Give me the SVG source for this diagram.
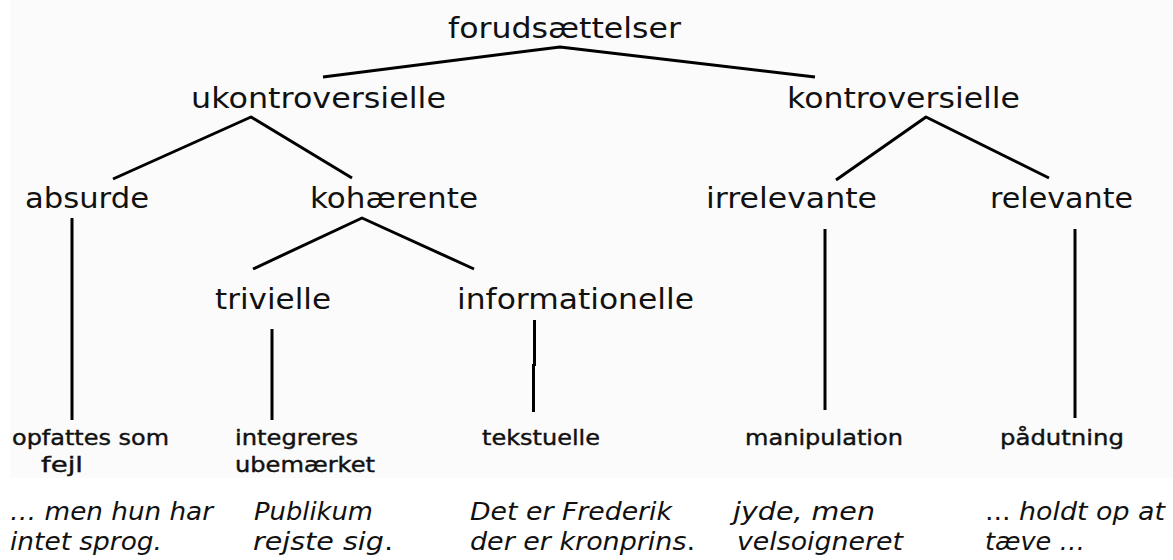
<svg xmlns="http://www.w3.org/2000/svg" width="1173" height="560" viewBox="0 0 1173 560">
<style>
.lvl{font-family:"DejaVu Sans","Liberation Sans",sans-serif;font-size:28px;fill:#111}
.leaf{font-family:"DejaVu Sans","Liberation Sans",sans-serif;font-size:21px;fill:#111;stroke:#111;stroke-width:0.4}
.ex{font-family:"DejaVu Sans","Liberation Sans",sans-serif;font-size:24px;font-style:italic;fill:#111}
.up{font-style:normal}
.ln{stroke:#000;stroke-width:3;fill:none;stroke-linejoin:round}
</style>
<rect x="0" y="0" width="1173" height="560" fill="#ffffff"/>
<rect x="10" y="0" width="1163" height="478" fill="#fbfbfb"/>
<g id="connectors" class="ln">
<polyline points="323,77 560,47 815,77"/>
<polyline points="113,179 251,117 352,178"/>
<polyline points="836,180 926,117 1049,178"/>
<polyline points="253,269 362,218 474,269"/>
<line x1="72" y1="218" x2="72" y2="420"/>
<line x1="272" y1="329" x2="272" y2="420"/>
<path d="M534.5 320 V366 M533.5 364 V412"/>
<line x1="825" y1="229" x2="825" y2="410"/>
<line x1="1075" y1="229" x2="1075" y2="418"/>
</g>
<g id="n-forudsaettelser"><text class="lvl" x="448" y="38" textLength="233" lengthAdjust="spacingAndGlyphs">forudsættelser</text></g>
<g id="n-ukontroversielle"><text class="lvl" x="191" y="108" textLength="255" lengthAdjust="spacingAndGlyphs">ukontroversielle</text></g>
<g id="n-kontroversielle"><text class="lvl" x="787" y="108" textLength="233" lengthAdjust="spacingAndGlyphs">kontroversielle</text></g>
<g id="n-absurde"><text class="lvl" x="25" y="208" textLength="124" lengthAdjust="spacingAndGlyphs">absurde</text></g>
<g id="n-kohaerente"><text class="lvl" x="310" y="208" textLength="168" lengthAdjust="spacingAndGlyphs">kohærente</text></g>
<g id="n-irrelevante"><text class="lvl" x="706" y="208" textLength="171" lengthAdjust="spacingAndGlyphs">irrelevante</text></g>
<g id="n-relevante"><text class="lvl" x="990" y="208" textLength="143" lengthAdjust="spacingAndGlyphs">relevante</text></g>
<g id="n-trivielle"><text class="lvl" x="215" y="309" textLength="116" lengthAdjust="spacingAndGlyphs">trivielle</text></g>
<g id="n-informationelle"><text class="lvl" x="457" y="309" textLength="237" lengthAdjust="spacingAndGlyphs">informationelle</text></g>
<g id="n-opfattes">
<text class="leaf" x="12" y="445" textLength="157" lengthAdjust="spacingAndGlyphs">opfattes som</text>
<text class="leaf" x="41" y="472" textLength="42" lengthAdjust="spacingAndGlyphs">fejl</text>
</g>
<g id="n-integreres">
<text class="leaf" x="235" y="445" textLength="123" lengthAdjust="spacingAndGlyphs">integreres</text>
<text class="leaf" x="235" y="472" textLength="140" lengthAdjust="spacingAndGlyphs">ubemærket</text>
</g>
<g id="n-tekstuelle"><text class="leaf" x="482" y="445" textLength="118" lengthAdjust="spacingAndGlyphs">tekstuelle</text></g>
<g id="n-manipulation"><text class="leaf" x="745" y="445" textLength="158" lengthAdjust="spacingAndGlyphs">manipulation</text></g>
<g id="n-paadutning"><text class="leaf" x="1000" y="445" textLength="124" lengthAdjust="spacingAndGlyphs">pådutning</text></g>
<g id="ex-1">
<text class="ex" x="10" y="520" textLength="203" lengthAdjust="spacingAndGlyphs">… men hun har</text>
<text class="ex" x="10" y="550" textLength="152" lengthAdjust="spacingAndGlyphs">intet sprog.</text>
</g>
<g id="ex-2">
<text class="ex" x="254" y="520" textLength="119" lengthAdjust="spacingAndGlyphs">Publikum</text>
<text class="ex" x="253" y="550" textLength="140" lengthAdjust="spacingAndGlyphs">rejste sig<tspan class="up">.</tspan></text>
</g>
<g id="ex-3">
<text class="ex" x="470" y="520" textLength="202" lengthAdjust="spacingAndGlyphs">Det er Frederik</text>
<text class="ex" x="470" y="550" textLength="225" lengthAdjust="spacingAndGlyphs">der er kronprins<tspan class="up">.</tspan></text>
</g>
<g id="ex-4">
<text class="ex" x="733" y="520" textLength="142" lengthAdjust="spacingAndGlyphs">jyde, men</text>
<text class="ex" x="737" y="550" textLength="166" lengthAdjust="spacingAndGlyphs">velsoigneret</text>
</g>
<g id="ex-5">
<text class="ex" x="985" y="520" textLength="180" lengthAdjust="spacingAndGlyphs"><tspan class="up">...</tspan> holdt op at</text>
<text class="ex" x="985" y="550" textLength="100" lengthAdjust="spacingAndGlyphs">tæve …</text>
</g>
</svg>
